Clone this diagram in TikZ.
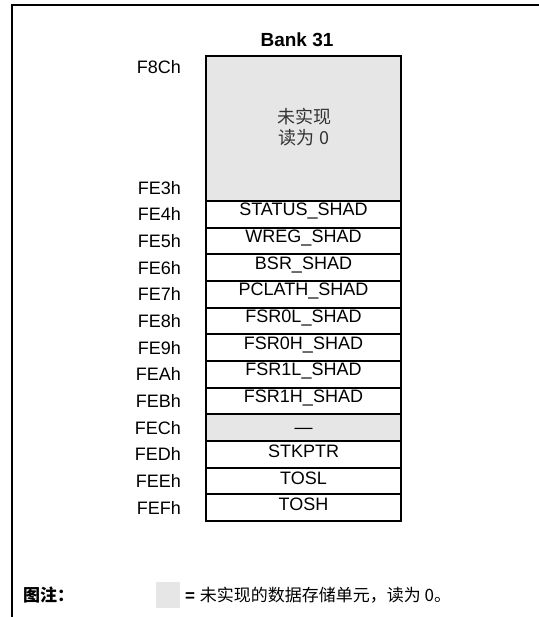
\documentclass[tikz,border=0pt]{standalone}
\usepackage{fontspec}
\setmainfont{Liberation Sans}
\newfontfamily\cjk{Noto Sans CJK SC}
\definecolor{ungray}{HTML}{E6E6E6}
\definecolor{cjktext}{HTML}{333333}
\begin{document}
\begin{tikzpicture}[x=1pt,y=-1pt,
  addr/.style={anchor=east,font=\fontsize{18}{20}\selectfont,inner sep=0pt},
  regtxt/.style={font=\fontsize{18}{20}\selectfont,inner sep=0pt},
  cell/.style={draw=black,line width=1.7pt},
  unimpl/.style={cell,fill=ungray}]
\useasboundingbox (0,0) rectangle (538,617);
% frame (cropped on right and bottom)
\draw[line width=2pt] (12,620) -- (12,5) -- (540,5);
% title
\node[font=\bfseries\fontsize{19}{21}\selectfont,inner sep=0pt] (title) at (297,39.5) {Bank 31};
% unimplemented block
\path[unimpl] (206,56) rectangle (401,201);
\node[font=\cjk\fontsize{18}{21}\selectfont,text=cjktext,align=center,inner sep=0pt] (unimp) at (304,127.5) {未实现\\读为 0};
% rows
\foreach \i/\name/\ad/\g/\dy in {0/STATUS\_SHAD/FE4h/0/-3,1/WREG\_SHAD/FE5h/0/-3,2/BSR\_SHAD/FE6h/0/-3,3/PCLATH\_SHAD/FE7h/0/-3,4/FSR0L\_SHAD/FE8h/0/-3,5/FSR0H\_SHAD/FE9h/0/-3,6/FSR1L\_SHAD/FEAh/0/-3,7/FSR1H\_SHAD/FEBh/0/-3,8/—/FECh/1/3,9/STKPTR/FEDh/0/-3,10/TOSL/FEEh/0/-3,11/TOSH/FEFh/0/-3}{
  \pgfmathsetmacro{\ytop}{201+26.667*\i}
  \pgfmathsetmacro{\ybot}{201+26.667*(\i+1)}
  \pgfmathsetmacro{\ymid}{201+26.667*(\i+0.5)}
  \ifnum\g=1
    \path[unimpl] (206,\ytop) rectangle (401,\ybot);
  \else
    \path[cell] (206,\ytop) rectangle (401,\ybot);
  \fi
  \node[regtxt] (r\i) at (303.5,\ymid+\dy) {\name};
  \node[addr] (a\i) at (181,\ymid) {\ad};
}
% outer box of the column, thicker
\draw[line width=2.2pt] (206,56) rectangle (401,521);
\node[addr] (aF8C) at (181,66.7) {F8Ch};
\node[addr] (aFE3) at (181,187.7) {FE3h};
% legend
\node[anchor=west,font=\cjk\bfseries\fontsize{17}{19}\selectfont,inner sep=0pt] (leg) at (23,595) {图注：};
\path[fill=ungray] (156,582) rectangle (180,608);
\node[anchor=west,inner sep=0pt,font=\fontsize{17}{19}\selectfont] (legtxt) at (185,595) {\textbf{=} {\cjk 未实现的数据存储单元，读为 0。}};
\end{tikzpicture}
\end{document}
